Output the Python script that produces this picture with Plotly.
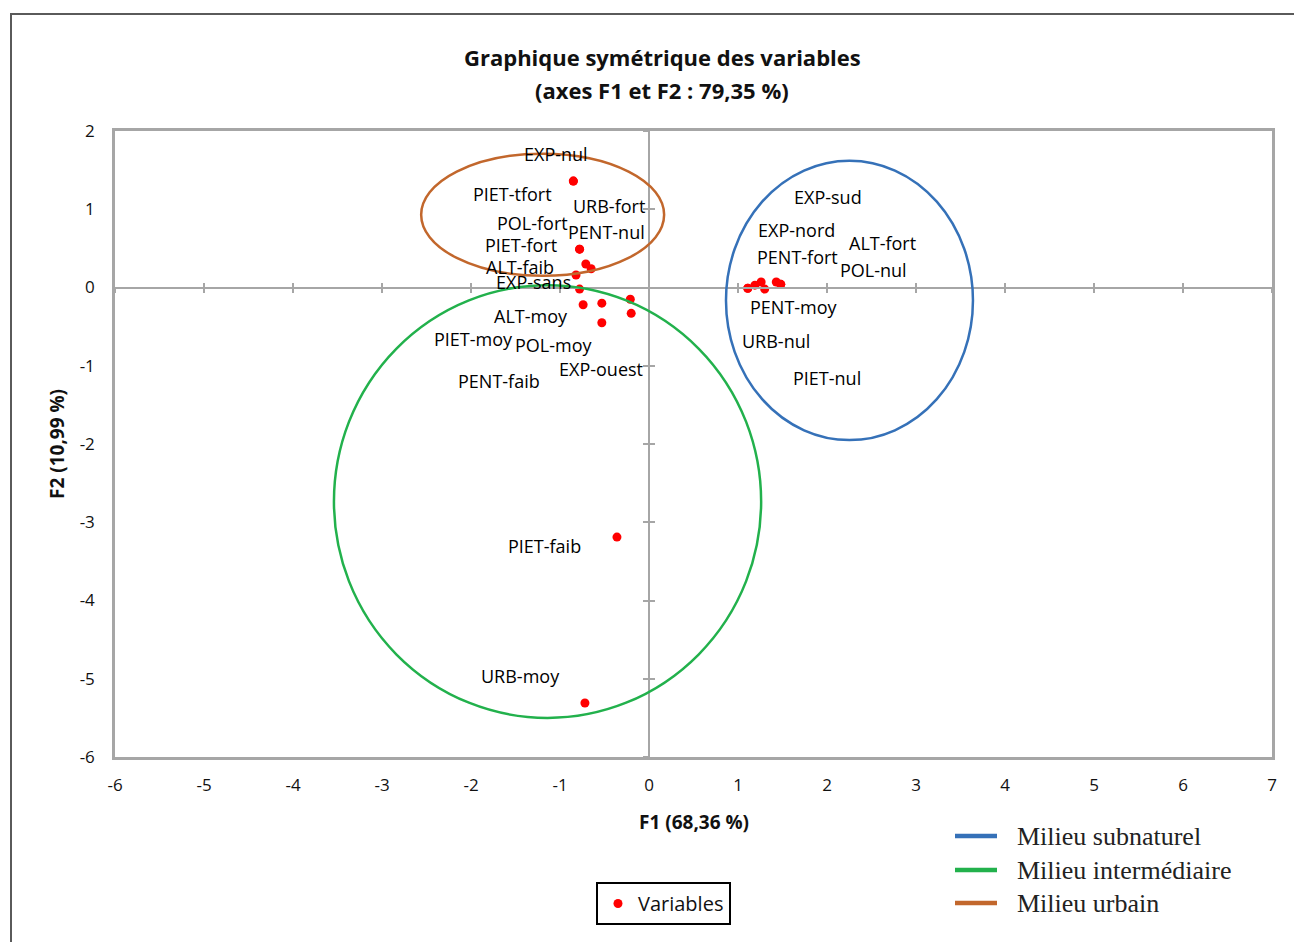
import plotly.graph_objects as go

# ---------------- data ----------------
labels = ["EXP-nul", "PIET-tfort", "URB-fort", "PENT-nul", "POL-fort", "PIET-fort",
          "ALT-faib", "EXP-sans", "ALT-moy", "PIET-moy", "POL-moy", "EXP-ouest",
          "PENT-faib", "PIET-faib", "URB-moy",
          "PENT-moy", "URB-nul", "EXP-nord", "PENT-fort", "PIET-nul", "EXP-sud",
          "ALT-fort", "POL-nul"]
f1 = [-0.85, -0.85, -0.78, -0.71, -0.65, -0.78,
      -0.82, -0.78, -0.74, -0.53, -0.53, -0.20,
      -0.21, -0.36, -0.72,
      1.11, 1.11, 1.19, 1.26, 1.30, 1.43,
      1.48, 1.48]
f2 = [1.36, 1.36, 0.49, 0.30, 0.24, 0.49,
      0.16, -0.02, -0.22, -0.20, -0.45, -0.33,
      -0.15, -3.19, -5.31,
      -0.01, -0.01, 0.03, 0.07, -0.02, 0.07,
      0.04, 0.04]

x_ticks = list(range(-6, 8))
y_ticks = list(range(-6, 3))

groups = ["Milieu subnaturel", "Milieu intermédiaire", "Milieu urbain"]
group_colors = ["#3571B8", "#22B14C", "#C2672C"]
# ellipse bounding boxes (x0, x1, y0, y1) in F1/F2 units
group_boxes = [(0.865, 3.64, -1.95, 1.62),
               (-3.54, 1.26, -5.50, 0.03),
               (-2.56, 0.17, 0.15, 1.71)]

# label offsets in pixels (dx right, dy down) -- styling
label_dx = [-17, -61, 29, 21, -59, -59, -56, -46, -52, -128, -48, -30, -131, -72, -64,
            46, 28, 42, 36, 62, 52, 102, 93]
label_dy = [-27, 13, -43, -32, -46, -4, -8, -7, 11, 36, 22, 56, 82, 9, -27,
            19, 53, -55, -25, 89, -85, -41, -14]

# ---------------- figure ----------------
PAGE_OFF = 8                      # browser body margin
W, H = 1302 - PAGE_OFF, 942 - PAGE_OFF
L, T = 115 - PAGE_OFF, 131 - PAGE_OFF
PW, PH = 1157, 626
R, B = W - L - PW, H - T - PH


def xp(px):          # page pixel -> paper x
    return (px - PAGE_OFF - L) / PW


def yp(py):          # page pixel -> paper y
    return (T + PH - (py - PAGE_OFF)) / PH


fig = go.Figure()

fig.add_trace(go.Scatter(
    x=f1, y=f2, mode="markers", name="Variables",
    marker=dict(color="#FF0000", size=9),
    showlegend=True,
))

# helper traces so the crossing axes get drawn
fig.add_trace(go.Scatter(x=[None], y=[None], xaxis="x2", yaxis="y2", showlegend=False, hoverinfo="skip"))
fig.add_trace(go.Scatter(x=[None], y=[None], xaxis="x3", yaxis="y3", showlegend=False, hoverinfo="skip"))

LABEL_FONT = dict(family="Open Sans", size=18, color="#000")
for lab, x, y, dx, dy in zip(labels, f1, f2, label_dx, label_dy):
    fig.add_annotation(x=x, y=y, xref="x", yref="y", text=lab, showarrow=False,
                       xanchor="center", yanchor="middle",
                       xshift=dx, yshift=-dy, font=LABEL_FONT)

shapes = []
for (x0, x1, y0, y1), col in zip(group_boxes, group_colors):
    shapes.append(dict(type="circle", xref="x", yref="y", x0=x0, x1=x1, y0=y0, y1=y1,
                       line=dict(color=col, width=2.5), layer="above"))

# outer frame
shapes.append(dict(type="rect", xref="paper", yref="paper",
                   x0=xp(11), x1=xp(1340), y0=yp(990), y1=yp(14),
                   line=dict(color="#5a5a5a", width=2)))

# manual legend for the groups
rows_y = [836, 870, 903]
for g, col, ry in zip(groups, group_colors, rows_y):
    shapes.append(dict(type="line", xref="paper", yref="paper",
                       x0=xp(955), x1=xp(997), y0=yp(ry), y1=yp(ry),
                       line=dict(color=col, width=4.5)))
    fig.add_annotation(xref="paper", yref="paper", x=xp(1015), y=yp(ry),
                       text=g, showarrow=False, xanchor="left", yanchor="middle",
                       font=dict(family="Liberation Serif", size=26, color="#222"))

# title
TITLE_FONT = dict(family="Open Sans", size=22, color="#111")
fig.add_annotation(xref="paper", yref="paper", x=xp(662), y=yp(57),
                   text="<b>Graphique symétrique des variables</b>", showarrow=False,
                   xanchor="center", yanchor="middle", font=TITLE_FONT)
fig.add_annotation(xref="paper", yref="paper", x=xp(662), y=yp(90),
                   text="<b>(axes F1 et F2 : 79,35 %)</b>", showarrow=False,
                   xanchor="center", yanchor="middle", font=TITLE_FONT)

# axis titles
fig.add_annotation(xref="paper", yref="paper", x=xp(694), y=yp(822),
                   text="<b>F1 (68,36 %)</b>", showarrow=False,
                   xanchor="center", yanchor="middle",
                   font=dict(family="Open Sans", size=19, color="#111"))
fig.add_annotation(xref="paper", yref="paper", x=xp(57), y=yp(444),
                   text="<b>F2 (10,99 %)</b>", showarrow=False, textangle=-90,
                   xanchor="center", yanchor="middle",
                   font=dict(family="Open Sans", size=19, color="#111"))

AX_GRAY = "#A6A6A6"
TICK_FONT = dict(family="Open Sans", size=17, color="#111")

fig.update_layout(
    width=W, height=H,
    margin=dict(l=L, r=R, t=T, b=B, autoexpand=False),
    paper_bgcolor="white", plot_bgcolor="white",
    shapes=shapes,
    showlegend=True,
    legend=dict(x=xp(596), y=yp(882), xanchor="left", yanchor="top",
                bordercolor="#000", borderwidth=2, bgcolor="white",
                font=dict(family="Open Sans", size=20, color="#111")),
    xaxis=dict(range=[-6, 7], tickvals=x_ticks, ticktext=[str(v) for v in x_ticks],
               showgrid=False, zeroline=False, showline=True, mirror=True,
               linecolor=AX_GRAY, linewidth=2.5, ticks="", ticklabelstandoff=11,
               tickfont=TICK_FONT, fixedrange=True),
    yaxis=dict(range=[-6, 2], tickvals=y_ticks, ticktext=[str(v) for v in y_ticks],
               showgrid=False, zeroline=False, showline=True, mirror=True,
               linecolor=AX_GRAY, linewidth=2.5, ticks="", ticklabelstandoff=14,
               tickfont=TICK_FONT, fixedrange=True),
    xaxis2=dict(overlaying="x", matches="x", anchor="free", position=6 / 8,
                showline=True, linecolor=AX_GRAY, linewidth=1.5, ticks="outside",
                ticklen=5, tickwidth=1.5, tickcolor=AX_GRAY, tickvals=x_ticks,
                showticklabels=False, showgrid=False, zeroline=False),
    yaxis2=dict(overlaying="y", matches="y", anchor="free", position=6 / 13,
                showline=True, linecolor=AX_GRAY, linewidth=1.5, ticks="outside",
                ticklen=5, tickwidth=1.5, tickcolor=AX_GRAY, tickvals=y_ticks,
                showticklabels=False, showgrid=False, zeroline=False),
    xaxis3=dict(overlaying="x", matches="x", anchor="free", position=6 / 8,
                showline=False, ticks="inside",
                ticklen=5, tickwidth=1.5, tickcolor=AX_GRAY, tickvals=x_ticks,
                showticklabels=False, showgrid=False, zeroline=False),
    yaxis3=dict(overlaying="y", matches="y", anchor="free", position=6 / 13,
                showline=False, ticks="inside",
                ticklen=5, tickwidth=1.5, tickcolor=AX_GRAY, tickvals=y_ticks,
                showticklabels=False, showgrid=False, zeroline=False),
)

fig.write_html("out.html")
